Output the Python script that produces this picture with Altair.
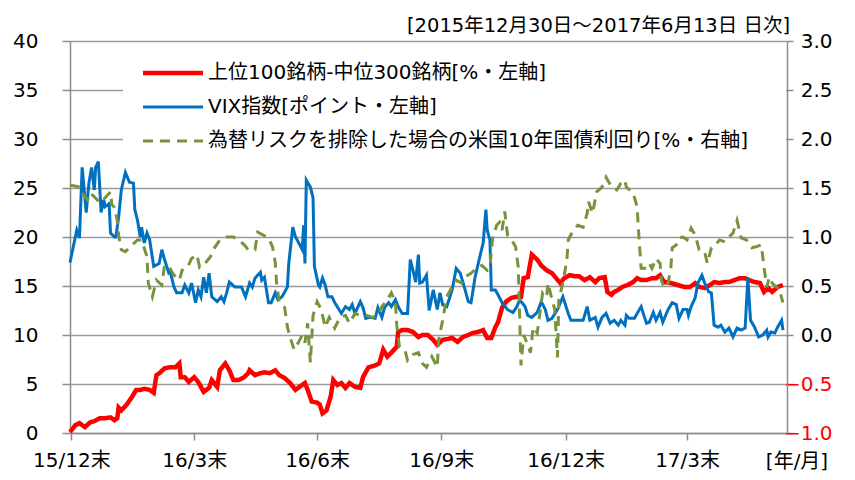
import altair as alt
import pandas as pd

START = "2015-12-30"
FONT = "DejaVu Sans, Noto Sans CJK JP"

# ---- data (days since 2015-12-30) ----
red_days = [0, 4, 7, 11, 15, 18, 22, 26, 30, 33, 35, 36, 38, 42, 46, 49, 52, 55, 59, 62,
            64, 67, 70, 74, 78, 81, 82, 85, 88, 92, 95, 99, 103, 105, 109, 111, 115, 118, 121, 125,
            129, 132, 133, 137, 141, 144, 148, 152, 155, 159, 163, 167, 170, 174, 176, 179, 183, 185, 187, 190,
            193, 195, 198, 201, 204, 207, 211, 215, 217, 221, 226, 229, 232, 235, 238, 242, 243, 246, 250, 254,
            258, 261, 265, 269, 272, 276, 280, 283, 287, 291, 295, 298, 302, 306, 309, 312, 315, 317, 320, 323,
            327, 331, 334, 336, 339, 342, 346, 349, 353, 357, 360, 363, 366, 370, 374, 377, 381, 385, 389, 392,
            396, 398, 401, 403, 406, 409, 413, 417, 420, 423, 427, 431, 434, 437, 440, 445, 450, 455, 459, 463,
            466, 470, 474, 477, 481, 485, 488, 492, 496, 500, 503, 507, 511, 514, 517, 520, 524, 528]
red_vals = [0.1, 0.8, 1.0, 0.6, 1.1, 1.2, 1.5, 1.5, 1.6, 1.3, 1.5, 2.6, 2.3, 2.9, 3.7, 4.4, 4.4, 4.5, 4.4, 4.1,
            5.9, 6.2, 6.6, 6.7, 6.7, 7.1, 5.7, 5.7, 5.2, 5.7, 5.2, 4.2, 4.6, 5.4, 4.7, 6.4, 7.1, 6.4, 5.4, 5.4,
            5.7, 6.1, 6.4, 5.9, 6.1, 6.2, 6.1, 6.4, 5.9, 5.6, 5.1, 4.4, 4.7, 5.1, 4.4, 3.2, 3.1, 2.9, 2.0, 2.3,
            3.7, 5.4, 4.9, 5.1, 4.6, 5.1, 4.7, 4.6, 5.7, 6.7, 6.9, 7.1, 8.5, 7.8, 8.2, 8.8, 10.3, 10.5, 10.5, 10.3,
            9.8, 10.0, 10.0, 9.5, 9.0, 9.5, 9.6, 9.7, 9.3, 9.8, 10.0, 10.2, 10.3, 10.5, 9.7, 9.7, 10.8, 11.3, 12.8, 13.4,
            13.8, 13.9, 13.9, 15.8, 15.9, 18.2, 17.7, 17.1, 16.6, 16.3, 15.8, 15.3, 15.8, 16.1, 16.0, 16.0, 15.6, 15.9, 15.4, 15.8,
            15.9, 14.4, 14.1, 14.4, 14.6, 14.9, 15.1, 15.4, 15.8, 15.6, 15.6, 15.8, 15.8, 16.1, 15.4, 15.3, 15.1, 14.9, 14.9, 15.3,
            14.9, 14.8, 15.1, 15.4, 15.3, 15.4, 15.4, 15.6, 15.8, 15.8, 15.6, 15.4, 15.3, 14.4, 14.8, 14.4, 14.9, 15.1]

vix_days = [0, 5, 7, 9, 12, 14, 16, 18, 19, 21, 22, 23, 25, 26, 29, 30, 33, 34, 36, 38,
            41, 44, 47, 48, 50, 52, 53, 55, 57, 59, 62, 66, 68, 70, 73, 74, 77, 79, 83, 85,
            88, 90, 93, 95, 97, 99, 101, 103, 105, 109, 112, 114, 116, 118, 122, 127, 130, 133, 135, 137,
            141, 142, 144, 147, 149, 152, 154, 157, 161, 162, 165, 167, 169, 172, 173, 174, 175, 178, 180, 181,
            184, 185, 187, 189, 191, 194, 196, 201, 204, 207, 209, 211, 215, 217, 219, 222, 226, 228, 231, 233,
            236, 238, 241, 243, 246, 250, 252, 254, 256, 258, 259, 261, 264, 266, 269, 272, 274, 276, 279, 283,
            286, 289, 291, 295, 297, 300, 303, 306, 308, 309, 311, 312, 315, 317, 320, 324, 328, 331, 333, 337,
            339, 342, 346, 349, 352, 354, 357, 361, 365, 369, 371, 376, 380, 383, 385, 389, 391, 394, 397, 400,
            403, 406, 408, 411, 412, 414, 418, 420, 423, 425, 427, 429, 432, 434, 437, 439, 443, 446, 449, 451,
            454, 457, 458, 460, 463, 465, 468, 470, 473, 475, 477, 480, 482, 485, 488, 491, 494, 497, 500, 502,
            504, 507, 510, 513, 516, 517, 519, 522, 524, 527, 528]
vix_vals = [17.4, 20.7, 19.9, 27.1, 22.5, 25.5, 27.1, 24.8, 27.1, 27.7, 25.1, 22.5, 23.8, 23.1, 23.4, 20.4, 20.0, 20.0, 22.0, 24.8,
            26.6, 25.6, 25.5, 22.8, 21.7, 20.0, 21.0, 19.4, 20.4, 19.7, 17.0, 17.3, 18.7, 17.7, 16.4, 16.6, 14.9, 14.3, 14.3, 15.1,
            14.3, 15.3, 13.3, 14.6, 13.9, 15.9, 14.3, 16.3, 13.9, 13.4, 13.9, 13.4, 14.3, 15.4, 14.9, 14.9, 13.9, 15.3, 14.9, 15.8,
            16.4, 15.6, 15.9, 13.3, 13.3, 14.3, 13.6, 13.9, 14.9, 17.3, 21.0, 20.0, 19.5, 18.7, 21.2, 17.3, 25.8, 25.1, 24.0, 17.0,
            15.1, 14.9, 15.8, 15.1, 13.9, 13.9, 13.3, 12.2, 12.9, 12.6, 13.1, 12.2, 13.4, 12.8, 11.7, 11.8, 11.7, 12.8, 11.8, 12.8,
            13.3, 12.9, 13.6, 12.9, 12.2, 12.2, 17.7, 16.6, 15.4, 18.2, 15.3, 15.4, 16.1, 12.5, 14.6, 12.6, 14.3, 13.1, 12.9, 14.6,
            16.8, 16.3, 15.4, 13.4, 13.3, 15.9, 17.7, 19.4, 22.8, 20.7, 19.7, 14.6, 14.6, 14.1, 13.3, 12.6, 12.3, 12.9, 13.6, 12.9,
            12.0, 11.8, 12.3, 13.4, 12.6, 11.5, 11.7, 12.6, 13.9, 12.2, 11.5, 11.5, 11.5, 12.9, 11.5, 11.8, 10.8, 11.8, 12.2, 11.2,
            11.5, 11.0, 11.5, 11.0, 12.0, 11.7, 11.7, 12.2, 12.9, 12.0, 11.2, 11.3, 12.3, 11.5, 12.3, 11.3, 12.6, 13.3, 13.1, 11.7,
            12.6, 12.6, 12.0, 12.9, 13.8, 15.3, 16.1, 15.3, 14.4, 14.3, 11.0, 10.8, 11.0, 10.3, 10.7, 9.8, 10.7, 10.5, 10.7, 15.8,
            11.5, 10.8, 9.8, 10.0, 10.5, 9.8, 10.3, 10.2, 10.8, 11.5, 10.5]

yld_days = [0, 7, 9, 13, 15, 18, 22, 26, 30, 31, 33, 35, 36, 38, 41, 46, 50, 53, 57, 58,
            61, 64, 68, 70, 74, 77, 81, 83, 87, 90, 94, 96, 100, 104, 107, 111, 116, 121, 125, 129,
            132, 137, 139, 143, 147, 150, 152, 153, 155, 159, 161, 163, 166, 169, 172, 174, 176, 178, 180, 183,
            186, 189, 192, 196, 200, 204, 207, 211, 215, 220, 224, 228, 231, 235, 238, 241, 242, 244, 248, 250,
            254, 258, 261, 264, 268, 272, 273, 276, 279, 283, 286, 290, 292, 297, 301, 305, 309, 311, 313, 316,
            318, 320, 322, 324, 327, 330, 332, 334, 336, 339, 341, 343, 346, 348, 350, 353, 354, 357, 359, 361,
            362, 365, 368, 369, 372, 376, 380, 383, 384, 387, 390, 394, 397, 401, 405, 408, 411, 412, 417, 420,
            421, 422, 423, 427, 429, 431, 434, 437, 438, 440, 443, 445, 446, 449, 451, 454, 457, 460, 463, 466,
            470, 472, 475, 477, 481, 485, 488, 491, 494, 497, 501, 505, 508, 512, 514, 516, 518, 520, 523, 525,
            528]
yld_vals = [1.53, 1.51, 1.45, 1.38, 1.45, 1.41, 1.35, 1.40, 1.46, 1.33, 1.30, 1.17, 1.02, 0.87, 0.85, 0.92, 0.97, 0.97, 0.80, 0.53,
            0.39, 0.56, 0.51, 0.71, 0.68, 0.61, 0.56, 0.66, 0.69, 0.78, 0.82, 0.69, 0.73, 0.80, 0.89, 0.97, 1.00, 1.00, 0.97, 0.92,
            0.87, 0.87, 1.05, 1.02, 0.99, 0.90, 0.74, 0.53, 0.33, 0.28, 0.08, -0.02, -0.15, -0.08, 0.00, -0.08, 0.12, -0.28, 0.20, 0.34,
            0.26, 0.08, 0.18, 0.07, 0.18, 0.20, 0.12, 0.22, 0.20, 0.20, 0.18, 0.20, 0.29, 0.36, 0.43, 0.33, 0.10, -0.12, -0.15, -0.26,
            -0.20, -0.18, -0.29, -0.33, -0.22, -0.33, -0.05, 0.15, 0.39, 0.49, 0.56, 0.53, 0.59, 0.63, 0.68, 0.71, 0.66, 0.69, 0.99, 1.12,
            1.15, 1.07, 1.26, 1.02, 0.97, 0.90, 0.69, -0.31, 0.00, -0.10, -0.18, 0.08, 0.02, 0.22, 0.43, 0.39, 0.53, 0.36, 0.26, -0.23,
            0.36, 0.53, 0.77, 0.97, 1.05, 1.12, 1.10, 1.24, 1.36, 1.24, 1.46, 1.51, 1.61, 1.51, 1.48, 1.55, 1.58, 1.51, 1.45, 1.31,
            1.07, 0.87, 0.68, 0.68, 0.73, 0.68, 0.78, 0.73, 0.56, 0.48, 0.53, 0.69, 0.89, 0.92, 0.99, 1.00, 0.97, 1.09, 1.02, 0.87,
            0.85, 0.73, 0.89, 0.90, 0.97, 0.95, 1.00, 1.04, 1.17, 0.99, 0.97, 0.89, 0.90, 0.92, 0.69, 0.49, 0.59, 0.53, 0.49, 0.48,
            0.33]

series_names = [
    "上位100銘柄-中位300銘柄[%・左軸]",
    "VIX指数[ポイント・左軸]",
    "為替リスクを排除した場合の米国10年国債利回り[%・右軸]",
]
series_colors = ["#FF0000", "#0070C0", "#77933C"]
x_tick_dates = [(2015, 12, 31), (2016, 3, 31), (2016, 6, 30), (2016, 9, 30), (2016, 12, 31), (2017, 3, 31)]
left_ticks = [0, 5, 10, 15, 20, 25, 30, 35, 40]
right_ticks = [-1.0, -0.5, 0.0, 0.5, 1.0, 1.5, 2.0, 2.5, 3.0]
period_text = "[2015年12月30日～2017年6月13日 日次]"
unit_text = "[年/月]"


def frame(days, vals):
    d = pd.Timestamp(START) + pd.to_timedelta(days, unit="D")
    return pd.DataFrame({"date": d.strftime("%Y-%m-%dT00:00:00"), "value": vals})


red_df = frame(red_days, red_vals)
vix_df = frame(vix_days, vix_vals)
yld_df = frame(yld_days, yld_vals)

W, H = 717, 392
GRID = "#9A9A9A"
AX = "#8C8C8C"

x_enc = alt.X(
    "date:T",
    scale=alt.Scale(domain=[alt.DateTime(year=2015, month=12, date=30),
                            alt.DateTime(year=2017, month=6, date=13)]),
    axis=alt.Axis(
        values=[alt.DateTime(year=y, month=m, date=d) for (y, m, d) in x_tick_dates],
        labelExpr="timeFormat(datum.value, '%y/%-m') + '末'",
        title=None, grid=False, tickSize=7, tickColor=AX, domainColor=AX,
        domainWidth=1.5, tickWidth=1.5, labelFontSize=20, labelFont=FONT,
        labelColor="#000000", labelPadding=10, labelFlush=False, labelOverlap=False,
    ),
)

left_y = alt.Y(
    "value:Q",
    scale=alt.Scale(domain=[0, 40], nice=False),
    axis=alt.Axis(
        values=left_ticks, title=None, orient="left", grid=True, gridColor=GRID,
        gridWidth=1.5, tickSize=8, tickColor=AX, tickWidth=1.5, domainColor=AX,
        domainWidth=1.5, labelFontSize=20, labelFont=FONT, labelColor="#000000",
        labelPadding=24,
    ),
)

right_y = alt.Y(
    "value:Q",
    scale=alt.Scale(domain=[-1.0, 3.0], nice=False),
    axis=alt.Axis(
        values=right_ticks, title=None, orient="right", grid=False, format=".1f",
        tickSize=6, tickColor=AX, tickWidth=1.5, domainColor=AX, domainWidth=1.5,
        labelFontSize=20, labelFont=FONT, labelAlign="right", labelPadding=39,
        labelColor={"condition": {"test": "datum.value < 0", "value": "#FF0000"},
                    "value": "#000000"},
    ),
)

red_line = alt.Chart(red_df).mark_line(color=series_colors[0], strokeWidth=4.5).encode(x=x_enc, y=left_y)
vix_line = alt.Chart(vix_df).mark_line(color=series_colors[1], strokeWidth=3).encode(x=x_enc, y=left_y)
left_layer = alt.layer(red_line, vix_line)

yld_line = alt.Chart(yld_df).mark_line(
    color=series_colors[2], strokeWidth=3, strokeDash=[10, 7]
).encode(x=x_enc, y=right_y)

one = pd.DataFrame({"k": [0]})

legend_box = alt.Chart(one).mark_rect(fill="white", stroke=None).encode(
    x=alt.value(53), x2=alt.value(716), y=alt.value(10), y2=alt.value(119)
)

legend_rows = [32, 66, 100]
legend_widths = [4.5, 3, 3]
legend_dash = [[1, 0], [1, 0], [10, 7]]
legend_layers = []
for i in range(3):
    legend_layers.append(
        alt.Chart(one).mark_rule(
            color=series_colors[i], strokeWidth=legend_widths[i], strokeDash=legend_dash[i],
            strokeCap="butt",
        ).encode(x=alt.value(73), x2=alt.value(133), y=alt.value(legend_rows[i]))
    )
    legend_layers.append(
        alt.Chart(one).mark_text(
            text=series_names[i], align="left", baseline="middle", fontSize=20,
            font=FONT, color="#000000",
        ).encode(x=alt.value(138), y=alt.value(legend_rows[i]))
    )

period_mark = alt.Chart(one).mark_text(
    text=period_text, align="right", baseline="middle", fontSize=19.5, font=FONT, color="#000000"
).encode(x=alt.value(720), y=alt.value(-15))

unit_mark = alt.Chart(one).mark_text(
    text=unit_text, align="center", baseline="middle", fontSize=20, font=FONT, color="#000000"
).encode(x=alt.value(727), y=alt.value(421))

chart = alt.layer(
    legend_box, left_layer, yld_line, *legend_layers, period_mark, unit_mark
).resolve_scale(y="independent").properties(
    width=W, height=H,
    autosize=alt.AutoSizeParams(type="none"),
    padding={"left": 62, "top": 33, "right": 60, "bottom": 39},
).configure_view(stroke=None).configure(background="white")

chart.save("out.html", embed_options={"renderer": "svg", "actions": False})
